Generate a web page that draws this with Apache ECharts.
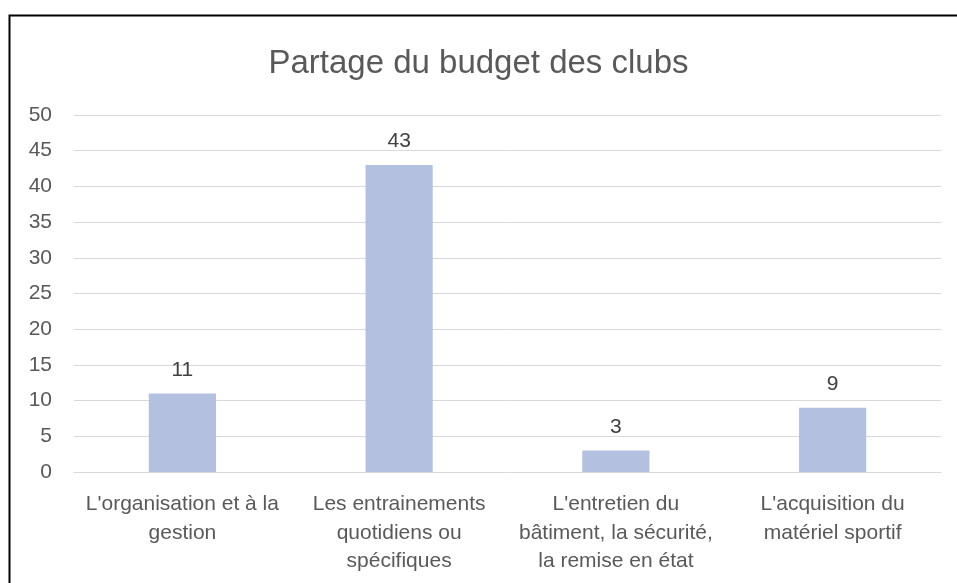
<!DOCTYPE html>
<html>
<head>
<meta charset="utf-8">
<script src="https://cdn.jsdelivr.net/npm/echarts@6/dist/echarts.min.js"></script>
<style>
  html, body { margin: 0; padding: 0; background: #fff; }
  #chart { width: 957px; height: 583px; }
</style>
</head>
<body>
<div id="chart"></div>
<script>
// données
var categories = [
  "L'organisation et à la\ngestion",
  "Les entrainements\nquotidiens ou\nspécifiques",
  "L'entretien du\nbâtiment, la sécurité,\nla remise en état",
  "L'acquisition du\nmatériel sportif"
];
var values = [11, 43, 3, 9];
var yTicks = [0, 5, 10, 15, 20, 25, 30, 35, 40, 45, 50];

var FONT = 'Liberation Sans';
var chart = echarts.init(document.getElementById('chart'));

chart.setOption({
  backgroundColor: '#fff',
  animation: false,
  title: {
    text: 'Partage du budget des clubs',
    left: 'center',
    top: 42,
    textStyle: { fontFamily: FONT, fontSize: 33, fontWeight: 'normal', color: '#595959' }
  },
  // cadre du graphique
  graphic: [{
    type: 'rect',
    shape: { x: 9.5, y: 15.5, width: 960, height: 600 },
    style: { fill: 'none', stroke: '#000', lineWidth: 2 },
    silent: true
  }],
  grid: { left: 74, right: 16, top: 115, bottom: 111 },
  xAxis: {
    type: 'category',
    data: categories,
    axisTick: { show: false },
    axisLine: { lineStyle: { color: '#d9d9d9', width: 1 } },
    axisLabel: {
      interval: 0,
      margin: 18,
      fontFamily: FONT,
      fontSize: 21,
      lineHeight: 28.5,
      color: '#595959'
    }
  },
  yAxis: {
    type: 'value',
    min: yTicks[0],
    max: yTicks[yTicks.length - 1],
    interval: 5,
    axisLine: { show: false },
    axisTick: { show: false },
    splitLine: { lineStyle: { color: '#d9d9d9', width: 1 } },
    axisLabel: { fontFamily: FONT, fontSize: 21, color: '#595959', margin: 22 }
  },
  series: [{
    type: 'bar',
    data: values,
    barWidth: '31%',
    itemStyle: { color: '#b4c0e0' },
    label: {
      show: true,
      position: 'top',
      distance: 13,
      fontFamily: FONT,
      fontSize: 21,
      color: '#404040'
    }
  }]
});
</script>
</body>
</html>
